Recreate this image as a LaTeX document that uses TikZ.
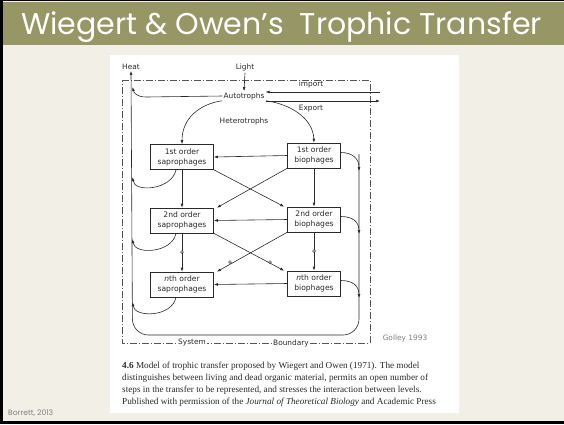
\documentclass[tikz,border=0pt]{standalone}
\usepackage{fontspec}
\setmainfont{Liberation Serif}
\newfontfamily\titlefont{Poppins}
\newfontfamily\labelfont{DejaVu Sans}
\usetikzlibrary{arrows.meta}
\definecolor{olivebar}{HTML}{979766}
\definecolor{slidebg}{HTML}{F2EFE7}
\definecolor{inkgray}{HTML}{2A2A2A}

\begin{document}
\begin{tikzpicture}[x=1pt, y=-1pt,
  stagebox/.style={draw=inkgray, line width=0.6pt, minimum height=25pt, align=center, text=inkgray, font=\labelfont\fontsize{7.6}{10}\selectfont, inner sep=1pt},
  flow/.style={draw=inkgray, line width=0.6pt, -{Latex[length=4pt,width=2.8pt]}},
  bound/.style={draw=inkgray!80, line width=0.5pt, dash pattern=on 7pt off 2pt on 1pt off 2pt},
  lbl/.style={font=\labelfont\fontsize{7.4}{9}\selectfont, text=inkgray, inner sep=1pt}]
\useasboundingbox (0,0) rectangle (564,424);
% slide
\fill[slidebg] (0,0) rectangle (564,424);
\fill[olivebar] (0,2) rectangle (564,45);
\fill[white] (110,55) rectangle (459,413);
\draw[black, line width=3pt] (1.5,0) -- (1.5,422.5) -- (564,422.5);
\draw[black, line width=1.2pt] (0,0.6) -- (564,0.6);
\node[font=\titlefont\fontsize{30}{32}\selectfont, text=white, anchor=base west, inner sep=0] (title) at (21,34) {Wiegert \& Owen’s\ \ Trophic Transfer};
\node[font=\titlefont\fontsize{7.6}{9}\selectfont, text=gray, anchor=west, inner sep=0] (credit) at (8,413) {Borrett, 2013};

% boundary
\draw[bound] (122,80) -- (370,80) -- (370,343) -- (122,343) -- cycle;
\node[lbl, fill=white] (system) at (192,343) {System};
\node[lbl, fill=white] (boundary) at (291,343) {Boundary};
\node[lbl, text=gray] (golley) at (405,338) {Golley 1993};

% labels
\node[lbl] (heat) at (131,67) {Heat};
\node[lbl] (light) at (245,67) {Light};
\node[lbl] (auto) at (244,96) {Autotrophs};
\node[lbl] (import) at (311,84) {import};
\node[lbl] (export) at (311,109) {Export};
\node[lbl] (hetero) at (244,121) {Heterotrophs};

% stages
\node[stagebox, minimum width=63pt] (sap1) at (182,157) {1st order\\saprophages};
\node[stagebox, minimum width=53pt] (bio1) at (314,155.5) {1st order\\biophages};
\node[stagebox, minimum width=63pt] (sap2) at (182,220.5) {2nd order\\saprophages};
\node[stagebox, minimum width=53pt] (bio2) at (314,219.5) {2nd order\\biophages};
\node[stagebox, minimum width=63pt] (sapn) at (182,284.5) {\textit{n}th order\\saprophages};
\node[stagebox, minimum width=53pt] (bion) at (314,283.5) {\textit{n}th order\\biophages};

% merge points
\coordinate (impR) at (380,92);
\coordinate (expR) at (380,101);
\coordinate (h0) at (132.5,87);
\coordinate (h1) at (132.5,177);
\coordinate (h2) at (132.5,239);
\coordinate (hn) at (132.5,302);
\coordinate (rtop) at (359,154);
\coordinate (r1) at (359,171);
\coordinate (r2) at (359,234);
\coordinate (rn) at (359,298);

% inputs and outputs
\draw[flow] ([yshift=-1pt]light.south) -- (auto.north);
\draw[flow] (impR) -- (impR -| auto.east);
\draw[flow] (auto.east |- expR) -- (expR);
\draw[flow] ([xshift=-22pt]auto.south) .. controls (200,104) and (182,118) .. (sap1.north);
\draw[flow] ([xshift=22pt]auto.south) .. controls (290,104) and (313,118) .. (bio1.north);

% heat return
\draw[flow, rounded corners=16pt] (rtop) -- (359,335) -- (132.5,335) -- (heat.south);
\draw[flow] (auto.west) -- (146,97) .. controls (137,97) and (134,93) .. (h0);
\draw[flow] ([xshift=-6pt]sap1.south) .. controls +(-4,20) and +(2,16) .. (h1);
\draw[flow] ([xshift=-6pt]sap2.south) .. controls +(-4,20) and +(2,16) .. (h2);
\draw[flow] ([xshift=-6pt]sapn.south) .. controls +(-4,20) and +(2,16) .. (hn);
\draw[flow] ([yshift=3pt]bio1.east) .. controls +(12,0) and +(0,-12) .. (r1);
\draw[flow] ([yshift=3pt]bio2.east) .. controls +(12,0) and +(0,-12) .. (r2);
\draw[flow] ([yshift=3pt]bion.east) .. controls +(12,0) and +(0,-12) .. (rn);

% transfers
\draw[flow] (bio1.west) -- (sap1.east);
\draw[flow] (bio2.west) -- (sap2.east);
\draw[flow] (bion.west) -- (sapn.east);
\draw[flow] (sap1.south) -- (sap2.north);
\draw[flow] (bio1.south) -- (bio2.north);
\draw[flow] (sap2.south) -- (sapn.north);
\draw[flow] (bio2.south) -- (bion.north);
\draw[flow] (sap1.south east) -- ([xshift=-3pt]bio2.north west);
\draw[flow] (bio1.south west) -- ([xshift=3pt]sap2.north east);
\draw[flow] (sap2.south east) -- ([xshift=-3pt]bion.north west);
\draw[flow] (bio2.south west) -- ([xshift=3pt]sapn.north east);
\foreach \p in {(182,252),(314,251),(230,262),(270,262)}
  \draw[inkgray, line width=0.5pt, fill=white] \p circle (1.4);

% caption
\node[anchor=north west, align=left, inner sep=0, font=\fontsize{9.2}{12}\selectfont, text=inkgray] (caption) at (122,362) {\textbf{4.6}\ Model of trophic transfer proposed by Wiegert and Owen (1971). The model\\distinguishes between living and dead organic material, permits an open number of\\steps in the transfer to be represented, and stresses the interaction between levels.\\Published with permission of the \textit{Journal of Theoretical Biology} and Academic Press};
\end{tikzpicture}
\end{document}
